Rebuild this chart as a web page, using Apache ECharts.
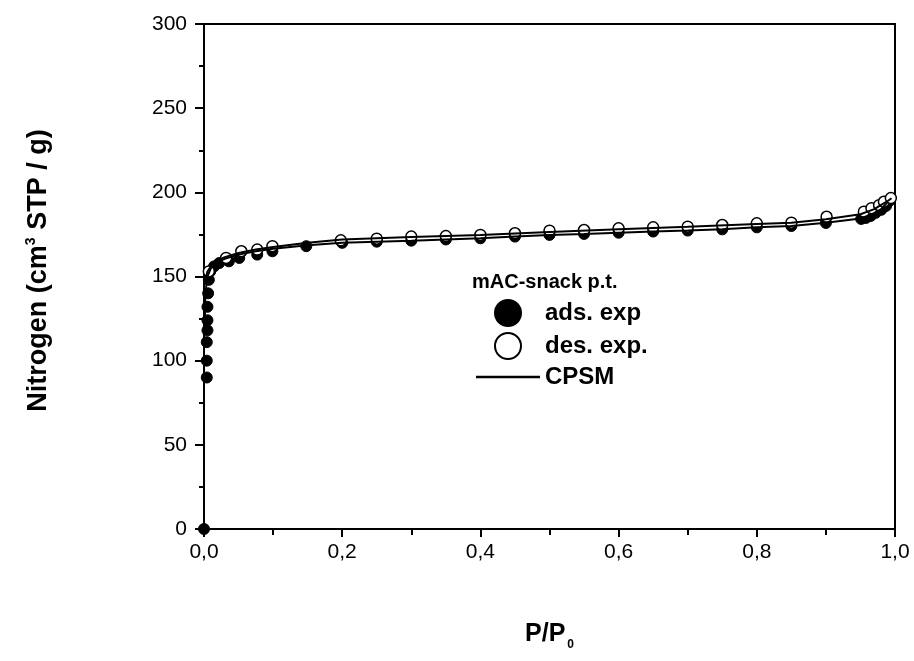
<!DOCTYPE html>
<html>
<head>
<meta charset="utf-8">
<script src="https://cdn.jsdelivr.net/npm/echarts@6/dist/echarts.min.js"></script>
<style>
    html, body { margin: 0; padding: 0; background: #fff; }
    #chart { width: 914px; height: 661px; }
</style>
</head>
<body>
<div id="chart"></div>
<script>
    // measured points, [P/P0, volume]
    var adsExp = [
        [0, 0], [0.004, 90], [0.004, 100], [0.004, 111], [0.005, 118], [0.005, 124],
        [0.005, 132], [0.006, 140], [0.007, 148], [0.009, 153], [0.0145, 156], [0.022, 158],
        [0.036, 159], [0.051, 161], [0.077, 163], [0.099, 165], [0.148, 168], [0.2, 170],
        [0.25, 170.7], [0.3, 171.3], [0.35, 172], [0.4, 172.7], [0.45, 173.7], [0.5, 174.7],
        [0.55, 175.3], [0.6, 176], [0.65, 176.7], [0.7, 177.3], [0.75, 178], [0.8, 179.2],
        [0.85, 180], [0.9, 181.8], [0.951, 184.2], [0.958, 184.8], [0.965, 186], [0.972, 187.8],
        [0.98, 189.6], [0.987, 191.9], [0.991, 194.5]
    ];
    var desExp = [
        [0.007, 153], [0.032, 161], [0.054, 165], [0.077, 166], [0.099, 168], [0.198, 171.5],
        [0.25, 172.5], [0.3, 173.7], [0.35, 174], [0.4, 174.7], [0.45, 175.7], [0.5, 177.2],
        [0.55, 177.6], [0.6, 178.6], [0.65, 179.2], [0.7, 179.6], [0.75, 180.6], [0.8, 181.6],
        [0.85, 182], [0.901, 185.5], [0.955, 188.5], [0.966, 190.6], [0.977, 192.4],
        [0.984, 194.4], [0.994, 196.6]
    ];
    // CPSM model curves
    var cpsmAds = [
        [0.001, 120], [0.002, 140], [0.005, 150], [0.01, 155], [0.02, 158.5], [0.03, 160.5],
        [0.05, 163], [0.075, 165], [0.1, 166.5], [0.15, 168.5], [0.2, 170], [0.25, 170.7],
        [0.3, 171.3], [0.35, 172], [0.4, 172.7], [0.45, 173.7], [0.5, 174.7], [0.55, 175.3],
        [0.6, 176], [0.65, 176.7], [0.7, 177.3], [0.75, 178], [0.8, 179.2], [0.85, 180],
        [0.9, 182], [0.95, 184.5], [0.97, 187.5], [0.98, 190], [0.99, 194.5]
    ];
    var cpsmDes = [
        [0.002, 148], [0.005, 153], [0.01, 156], [0.02, 159.5], [0.03, 161.5], [0.05, 164],
        [0.075, 166], [0.1, 167.5], [0.15, 170], [0.2, 172], [0.3, 173.5], [0.4, 174.7],
        [0.5, 176.5], [0.6, 178], [0.7, 179.5], [0.8, 181.2], [0.85, 182], [0.9, 184],
        [0.95, 187], [0.97, 190], [0.98, 192.5], [0.99, 195], [0.995, 196.5]
    ];
    var xTicks = { min: 0, max: 1, interval: 0.2 };
    var yTicks = { min: 0, max: 300, interval: 50 };

    var font = 'Liberation Sans, Arial, sans-serif';
    var chart = echarts.init(document.getElementById('chart'));

    var option = {
        animation: false,
        backgroundColor: '#fff',
        title: {
            text: 'mAC-snack p.t.',
            left: 467,
            top: 267,
            textStyle: { fontFamily: font, fontWeight: 'bold', fontSize: 20, color: '#000' }
        },
        legend: {
            orient: 'vertical',
            left: 471,
            top: 294,
            itemWidth: 64,
            itemHeight: 26,
            itemGap: 5,
            data: [
                { name: 'ads. exp' },
                { name: 'des. exp.' },
                { name: 'CPSM', icon: 'path://M0,0L64,0L64,2.5L0,2.5Z' }
            ],
            textStyle: { fontFamily: font, fontWeight: 'bold', fontSize: 24, color: '#000' }
        },
        grid: {
            left: 204, right: 19, top: 24, bottom: 132,
            containLabel: false,
            show: true, borderColor: '#000', borderWidth: 2
        },
        xAxis: {
            type: 'value',
            min: xTicks.min, max: xTicks.max, interval: xTicks.interval,
            name: 'P/P{sub|0}',
            nameLocation: 'middle',
            nameGap: 88,
            nameTextStyle: {
                fontFamily: font, fontWeight: 'bold', fontSize: 25, color: '#000',
                rich: { sub: { fontFamily: font, fontWeight: 'bold', fontSize: 12, color: '#000', padding: [22, 0, 0, 2] } }
            },
            axisLine: { lineStyle: { color: '#000', width: 2 } },
            axisTick: { inside: false, length: 8, lineStyle: { color: '#000', width: 2 } },
            minorTick: { show: true, splitNumber: 2, length: 6, lineStyle: { color: '#000', width: 2 } },
            splitLine: { show: false },
            axisLabel: {
                margin: 13,
                fontFamily: font, fontSize: 21, color: '#000',
                formatter: function (v) { return v.toFixed(1).replace('.', ','); }
            }
        },
        yAxis: {
            type: 'value',
            min: yTicks.min, max: yTicks.max, interval: yTicks.interval,
            name: 'Nitrogen (cm{sup|3} STP / g)',
            nameLocation: 'middle',
            nameGap: 150,
            nameTextStyle: {
                fontFamily: font, fontWeight: 'bold', fontSize: 27, color: '#000',
                padding: [0, 0, 0, 12],
                rich: { sup: { fontFamily: font, fontWeight: 'bold', fontSize: 14, color: '#000', padding: [0, 0, 16, 0] } }
            },
            axisLine: { lineStyle: { color: '#000', width: 2 } },
            axisTick: { inside: false, length: 9, lineStyle: { color: '#000', width: 2 } },
            minorTick: { show: true, splitNumber: 2, length: 5, lineStyle: { color: '#000', width: 2 } },
            splitLine: { show: false },
            axisLabel: { margin: 17, fontFamily: font, fontSize: 21, color: '#000' }
        },
        series: [
            {
                name: 'ads. exp',
                type: 'scatter',
                symbol: 'circle',
                symbolSize: 11,
                itemStyle: { color: '#000', borderColor: '#000', borderWidth: 1, opacity: 1 },
                data: adsExp
            },
            {
                name: 'des. exp.',
                type: 'scatter',
                symbol: 'circle',
                symbolSize: 11,
                itemStyle: { color: '#fff', borderColor: '#000', borderWidth: 1.5, opacity: 1 },
                data: desExp
            },
            {
                name: 'CPSM',
                type: 'line',
                symbol: 'none',
                lineStyle: { color: '#000', width: 2 },
                itemStyle: { color: '#000' },
                data: cpsmAds
            },
            {
                name: 'CPSM',
                type: 'line',
                symbol: 'none',
                lineStyle: { color: '#000', width: 2 },
                itemStyle: { color: '#000' },
                data: cpsmDes
            }
        ]
    };

    chart.setOption(option);
</script>
</body>
</html>
